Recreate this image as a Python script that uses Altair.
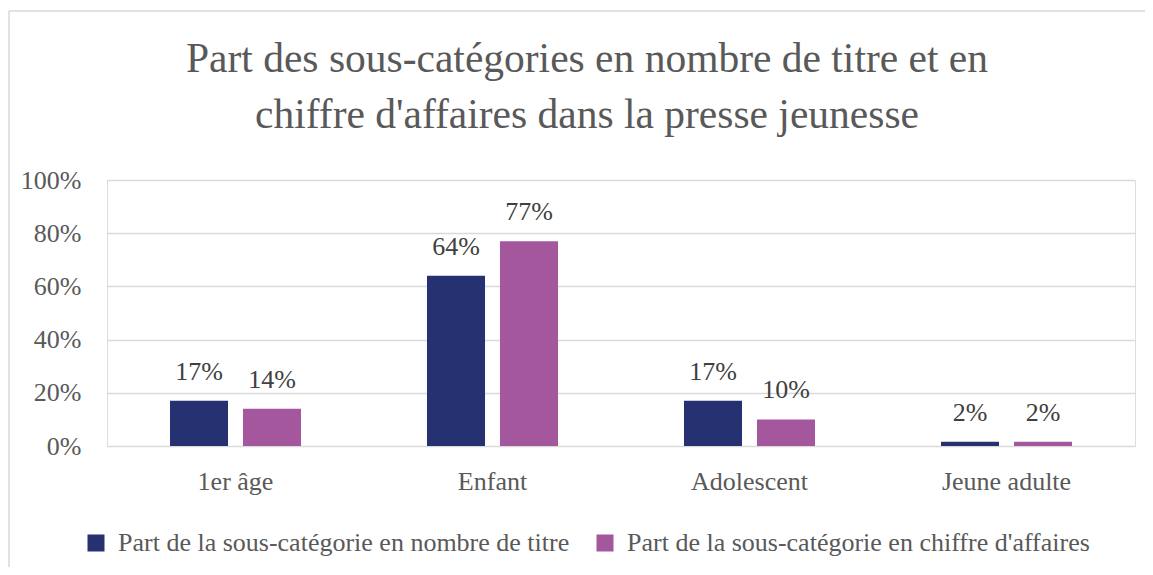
import altair as alt
import pandas as pd

categories = ["1er âge", "Enfant", "Adolescent", "Jeune adulte"]
series = ["Part de la sous-catégorie en nombre de titre",
          "Part de la sous-catégorie en chiffre d'affaires"]
titres = [0.17, 0.64, 0.17, 0.016]
ca = [0.14, 0.77, 0.10, 0.016]
colors = ["#253170", "#A5579E"]
title_lines = ["Part des sous-catégories en nombre de titre et en",
               "chiffre d'affaires dans la presse jeunesse"]

rows = []
for i, c in enumerate(categories):
    rows.append({"cat": c, "serie": series[0], "val": titres[i]})
    rows.append({"cat": c, "serie": series[1], "val": ca[i]})
df = pd.DataFrame(rows)

FONT = "Liberation Serif"
GREY = "#595959"
FS = 26

x = alt.X("cat:N", sort=categories, title=None,
          scale=alt.Scale(paddingInner=0, paddingOuter=0),
          axis=alt.Axis(labelAngle=0, labelFontSize=FS, labelColor=GREY, labelFont=FONT,
                        ticks=False, domain=False, labelPadding=22))
xo = alt.XOffset("serie:N", sort=series,
                 scale=alt.Scale(paddingInner=0.205, paddingOuter=0.863))
y = alt.Y("val:Q", title=None,
          scale=alt.Scale(domain=[0, 1]),
          axis=alt.Axis(format=".0%", values=[0, 0.2, 0.4, 0.6, 0.8, 1.0],
                        labelFontSize=FS, labelColor=GREY, labelFont=FONT,
                        ticks=False, domain=False, labelPadding=26,
                        gridColor="#d9d9d9", gridWidth=1.5))

base = alt.Chart(df)

bars = base.mark_bar().encode(
    x=x, xOffset=xo, y=y,
    color=alt.Color("serie:N", sort=series,
                    scale=alt.Scale(domain=series, range=colors),
                    legend=alt.Legend(title=None, orient="none", direction="horizontal",
                                      legendX=-24, legendY=350, labelFontSize=FS,
                                      labelFont=FONT, labelColor=GREY, symbolType="square",
                                      symbolSize=289, symbolStrokeWidth=0, columnPadding=22,
                                      labelOffset=9, labelLimit=0)),
)

labels = base.mark_text(baseline="bottom", dy=-16, fontSize=FS, font=FONT, color="#404040").encode(
    x=x, xOffset=xo, y=y, text=alt.Text("val:Q", format=".0%")
)

title = alt.Chart(pd.DataFrame({"k": [0]})).mark_text(
    fontSize=41.5, font=FONT, color=GREY, baseline="middle", align="center",
    lineHeight=56, text=title_lines
).encode(x=alt.value(480), y=alt.value(-120))

one = pd.DataFrame({"k": [0]})
top_line = alt.Chart(one).mark_rule(color="#d9d9d9", strokeWidth=1.5, clip=False).encode(
    x=alt.value(-98), x2=alt.value(1038), y=alt.value(-169))
left_line = alt.Chart(one).mark_rule(color="#d9d9d9", strokeWidth=1.5, clip=False).encode(
    x=alt.value(-98), y=alt.value(-169), y2=alt.value(400))

chart = alt.layer(top_line, left_line, bars, labels, title).properties(
    width=1028, height=266,
    autosize=alt.AutoSizeParams(type="none"),
    padding={"left": 99, "top": 172, "right": 10, "bottom": 121},
).configure_view(stroke=None).configure(background="white")

chart.save("out.html", embed_options={"renderer": "svg", "actions": False})
